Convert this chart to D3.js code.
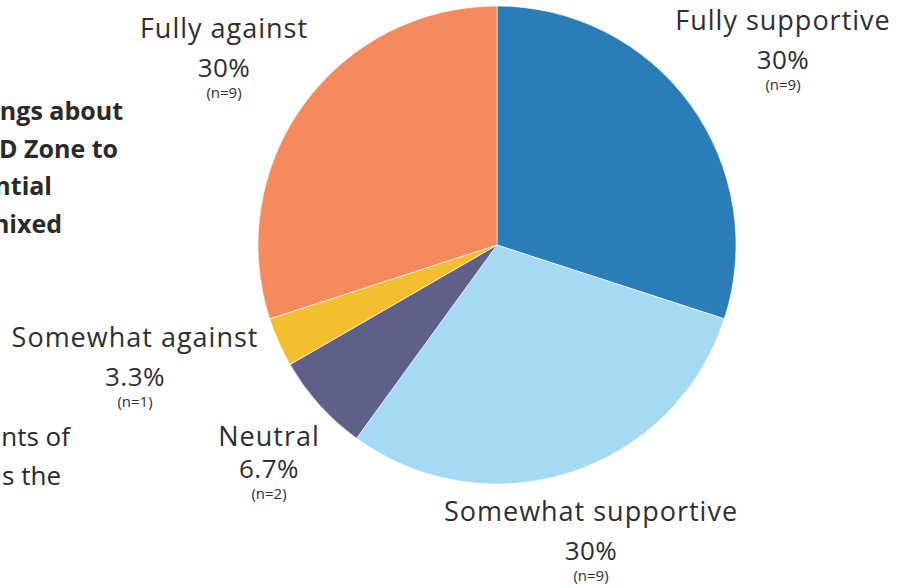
<!DOCTYPE html>
<html>
<head>
<meta charset="utf-8">
<script src="https://cdn.jsdelivr.net/npm/d3@7"></script>
<style>
  body { margin: 0; background: #fff; }
  svg { display: block; }
</style>
</head>
<body>
<svg id="chart" width="912" height="588"></svg>
<script>
// data
var categories = ["Fully supportive", "Somewhat supportive", "Neutral", "Somewhat against", "Fully against"]
var counts = [9, 9, 2, 1, 9]
var percents = ["30%", "30%", "6.7%", "3.3%", "30%"]
var colors = ["#2b7db7", "#a6d9f4", "#5f6089", "#f3bf2f", "#f68a5d"]

// text cut off at the left of the slide
var titleLines = ["ngs about", "D Zone to", "ntial", "nixed"]
var noteLines = ["nts of", "s the"]

// where each label sits (centre x, baseline of first line)
var labelPos = {
  "Fully supportive": [783, 30],
  "Somewhat supportive": [591, 521],
  "Neutral": [269, 446],
  "Somewhat against": [135, 347],
  "Fully against": [224, 38]
}
var pctGap = { "Neutral": 32 }

var svg = d3.select("#chart")
var font = "'Open Sans', 'Noto Sans', sans-serif"

var pie = d3.pie().sort(null).value(function(d) { return d.n })
var arc = d3.arc().innerRadius(0).outerRadius(239)

var rows = categories.map(function(c, i) {
  return { name: c, n: counts[i], pct: percents[i], color: colors[i] }
})

var g = svg.append("g").attr("transform", "translate(497,245)")
g.selectAll("path")
  .data(pie(rows))
  .enter().append("path")
  .attr("d", arc)
  .attr("fill", function(d) { return d.data.color })
  .attr("stroke", "#fff")
  .attr("stroke-width", 0.6)

var labels = svg.selectAll(".label")
  .data(rows)
  .enter().append("g")
  .attr("class", "label")
  .attr("transform", function(d) {
    var p = labelPos[d.name]
    return "translate(" + p[0] + "," + p[1] + ")"
  })
  .attr("font-family", font)
  .attr("fill", "#2f2f2f")
  .attr("text-anchor", "middle")

labels.append("text")
  .attr("font-size", 27)
  .attr("letter-spacing", 1)
  .text(function(d) { return d.name })
labels.append("text")
  .attr("y", function(d) { return pctGap[d.name] || 39 })
  .attr("font-size", 26)
  .attr("letter-spacing", 0.5)
  .text(function(d) { return d.pct })
labels.append("text")
  .attr("y", function(d) { return (pctGap[d.name] || 39) + 21 })
  .attr("font-size", 15)
  .text(function(d) { return "(n=" + d.n + ")" })

svg.append("g")
  .attr("font-family", font)
  .attr("font-weight", "bold")
  .attr("font-size", 25)
  .attr("fill", "#2a2a2a")
  .attr("text-anchor", "end")
  .selectAll("text")
  .data(titleLines)
  .enter().append("text")
  .attr("x", function(d, i) { return [123, 118, 52, 62][i] })
  .attr("y", function(d, i) { return 120 + i * 37.5 })
  .text(function(d) { return d })

svg.append("g")
  .attr("font-family", font)
  .attr("font-size", 26)
  .attr("fill", "#2a2a2a")
  .attr("text-anchor", "end")
  .selectAll("text")
  .data(noteLines)
  .enter().append("text")
  .attr("x", function(d, i) { return [70, 61][i] })
  .attr("y", function(d, i) { return 446 + i * 39 })
  .text(function(d) { return d })
</script>
</body>
</html>
